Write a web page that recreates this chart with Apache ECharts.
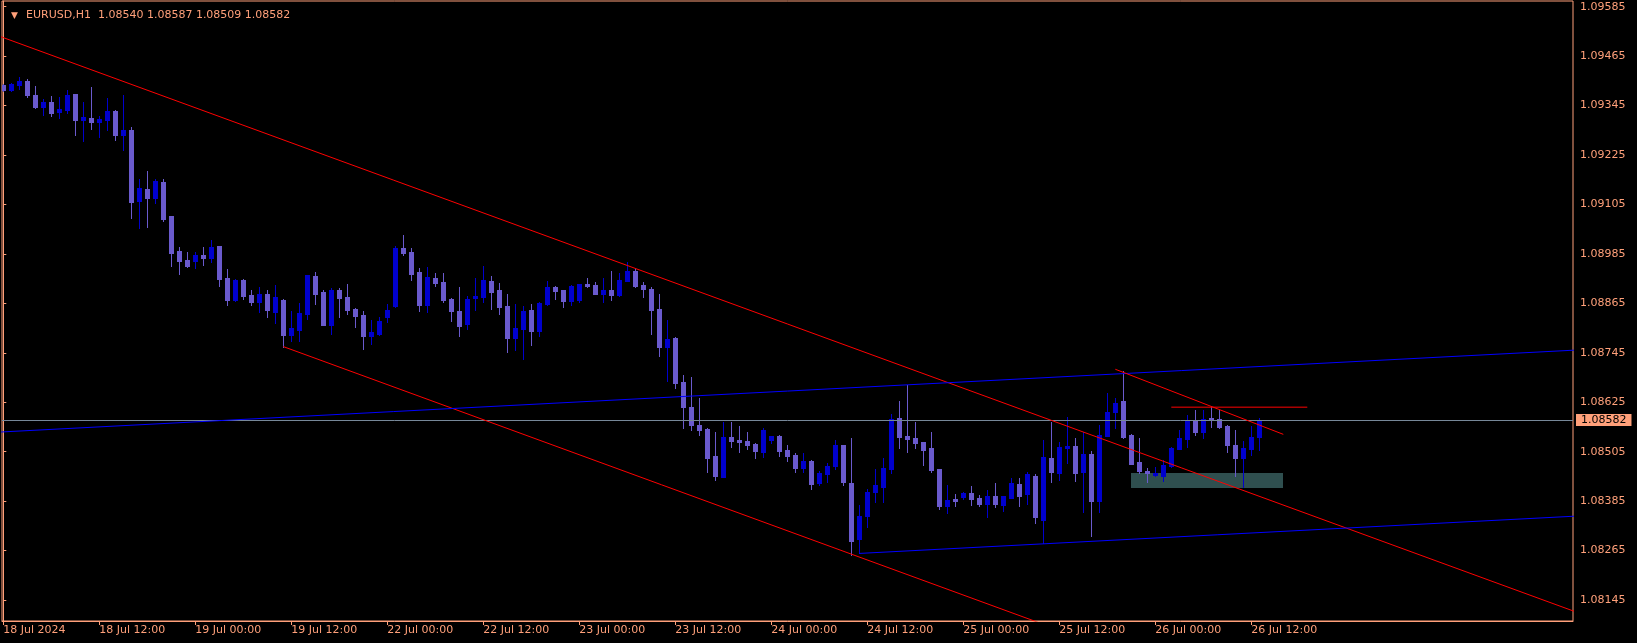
<!DOCTYPE html>
<html><head><meta charset="utf-8">
<script src="https://cdn.jsdelivr.net/npm/echarts@6/dist/echarts.min.js"></script>
<style>html,body{margin:0;padding:0;background:#000;}#c{width:1637px;height:643px;}</style>
</head><body><div id="c"></div>
<script>
const symbolName = 'EURUSD,H1';
const tickIdx = [0,12,24,36,48,60,72,84,96,108,120,132,144,156];
const tickLabels = ['18 Jul 2024','18 Jul 12:00','19 Jul 00:00','19 Jul 12:00','22 Jul 00:00','22 Jul 12:00','23 Jul 00:00','23 Jul 12:00','24 Jul 00:00','24 Jul 12:00','25 Jul 00:00','25 Jul 12:00','26 Jul 00:00','26 Jul 12:00'];
const priceTicks = [1.08145,1.08265,1.08385,1.08505,1.08625,1.08745,1.08865,1.08985,1.09105,1.09225,1.09345,1.09465,1.09585];

const opens = [1.09395,1.09383,1.09395,1.09405,1.09371,1.09342,1.09354,1.09329,1.09334,1.09373,1.09310,1.09315,1.09305,1.09310,1.09332,1.09274,1.09286,1.09113,1.09143,1.09121,1.09160,1.09077,1.08992,1.08970,1.08968,1.08982,1.08975,1.09004,1.08927,1.08873,1.08922,1.08885,1.08868,1.08888,1.08844,1.08873,1.08788,1.08800,1.08839,1.08931,1.08893,1.08812,1.08897,1.08880,1.08851,1.08837,1.08786,1.08791,1.08832,1.08859,1.08999,1.08990,1.08941,1.08861,1.08927,1.08917,1.08876,1.08847,1.08815,1.08878,1.08881,1.08919,1.08897,1.08859,1.08781,1.08803,1.08849,1.08798,1.08864,1.08905,1.08897,1.08871,1.08873,1.08912,1.08910,1.08888,1.08897,1.08885,1.08919,1.08944,1.08910,1.08900,1.08851,1.08759,1.08781,1.08674,1.08614,1.08570,1.08560,1.08495,1.08444,1.08541,1.08533,1.08531,1.08524,1.08504,1.08533,1.08543,1.08509,1.08497,1.08466,1.08482,1.08429,1.08451,1.08470,1.08521,1.08429,1.08293,1.08349,1.08407,1.08419,1.08463,1.08587,1.08543,1.08538,1.08528,1.08514,1.08463,1.08373,1.08390,1.08395,1.08405,1.08393,1.08378,1.08397,1.08376,1.08393,1.08427,1.08402,1.08446,1.08339,1.08490,1.08453,1.08514,1.08519,1.08456,1.08499,1.08385,1.08543,1.08601,1.08628,1.08545,1.08480,1.08458,1.08448,1.08446,1.08470,1.08512,1.08536,1.08582,1.08553,1.08587,1.08584,1.08567,1.08521,1.08490,1.08512,1.08540];
const highs = [1.09397,1.09399,1.09414,1.09410,1.09393,1.09360,1.09368,1.09366,1.09383,1.09373,1.09354,1.09390,1.09320,1.09363,1.09334,1.09371,1.09293,1.09167,1.09186,1.09167,1.09167,1.09077,1.09002,1.08990,1.08990,1.09002,1.09019,1.09004,1.08948,1.08924,1.08924,1.08897,1.08905,1.08897,1.08910,1.08876,1.08846,1.08866,1.08934,1.08941,1.08897,1.08902,1.08902,1.08912,1.08854,1.08846,1.08825,1.08832,1.08863,1.09004,1.09031,1.08999,1.08951,1.08953,1.08939,1.08939,1.08878,1.08905,1.08883,1.08927,1.08956,1.08931,1.08914,1.08888,1.08864,1.08859,1.08864,1.08868,1.08919,1.08907,1.08897,1.08910,1.08912,1.08927,1.08917,1.08927,1.08944,1.08939,1.08965,1.08951,1.08917,1.08905,1.08888,1.08825,1.08783,1.08691,1.08686,1.08635,1.08563,1.08553,1.08577,1.08577,1.08567,1.08553,1.08526,1.08563,1.08543,1.08546,1.08521,1.08502,1.08501,1.08485,1.08458,1.08478,1.08533,1.08521,1.08538,1.08376,1.08414,1.08463,1.08490,1.08596,1.08628,1.08667,1.08577,1.08528,1.08553,1.08463,1.08424,1.08402,1.08407,1.08422,1.08400,1.08412,1.08429,1.08397,1.08441,1.08441,1.08456,1.08451,1.08533,1.08577,1.08528,1.08589,1.08538,1.08553,1.08507,1.08570,1.08647,1.08635,1.08701,1.08548,1.08538,1.08465,1.08468,1.08485,1.08516,1.08558,1.08594,1.08606,1.08606,1.08613,1.08606,1.08570,1.08558,1.08531,1.08567,1.08587];
const lows = [1.09381,1.09381,1.09385,1.09367,1.09339,1.09322,1.09320,1.09315,1.09327,1.09274,1.09259,1.09288,1.09269,1.09286,1.09261,1.09237,1.09072,1.09048,1.09050,1.09109,1.09065,1.08956,1.08936,1.08953,1.08951,1.08958,1.08965,1.08907,1.08861,1.08871,1.08876,1.08861,1.08844,1.08832,1.08817,1.08760,1.08774,1.08774,1.08827,1.08863,1.08812,1.08791,1.08832,1.08839,1.08808,1.08754,1.08766,1.08788,1.08820,1.08856,1.08982,1.08922,1.08846,1.08844,1.08907,1.08868,1.08822,1.08786,1.08803,1.08849,1.08868,1.08851,1.08839,1.08747,1.08752,1.08730,1.08764,1.08786,1.08861,1.08876,1.08856,1.08861,1.08868,1.08905,1.08888,1.08868,1.08873,1.08883,1.08919,1.08905,1.08881,1.08791,1.08737,1.08677,1.08660,1.08563,1.08558,1.08546,1.08456,1.08436,1.08444,1.08516,1.08504,1.08512,1.08490,1.08492,1.08526,1.08495,1.08482,1.08456,1.08456,1.08414,1.08424,1.08431,1.08463,1.08424,1.08254,1.08258,1.08322,1.08383,1.08383,1.08453,1.08514,1.08504,1.08514,1.08473,1.08456,1.08366,1.08356,1.08373,1.08390,1.08376,1.08373,1.08346,1.08371,1.08361,1.08393,1.08373,1.08378,1.08332,1.08283,1.08431,1.08436,1.08478,1.08434,1.08359,1.08300,1.08359,1.08543,1.08562,1.08538,1.08475,1.08453,1.08431,1.08446,1.08434,1.08468,1.08512,1.08516,1.08545,1.08538,1.08565,1.08562,1.08504,1.08446,1.08420,1.08497,1.08509];
const closes = [1.09383,1.09397,1.09405,1.09371,1.09342,1.09354,1.09327,1.09337,1.09371,1.09310,1.09317,1.09305,1.09312,1.09332,1.09274,1.09286,1.09111,1.09145,1.09121,1.09162,1.09070,1.08987,1.08968,1.08956,1.08982,1.08975,1.09002,1.08924,1.08873,1.08922,1.08883,1.08868,1.08888,1.08849,1.08880,1.08788,1.08805,1.08842,1.08934,1.08888,1.08812,1.08897,1.08878,1.08849,1.08834,1.08786,1.08796,1.08822,1.08849,1.08999,1.08987,1.08936,1.08861,1.08929,1.08914,1.08873,1.08847,1.08810,1.08876,1.08883,1.08922,1.08893,1.08856,1.08781,1.08805,1.08847,1.08798,1.08866,1.08905,1.08895,1.08871,1.08907,1.08912,1.08907,1.08888,1.08897,1.08885,1.08922,1.08944,1.08907,1.08900,1.08849,1.08759,1.08779,1.08672,1.08614,1.08570,1.08558,1.08490,1.08446,1.08541,1.08531,1.08529,1.08521,1.08507,1.08558,1.08543,1.08507,1.08495,1.08465,1.08482,1.08427,1.08453,1.08470,1.08521,1.08431,1.08288,1.08349,1.08407,1.08424,1.08465,1.08584,1.08541,1.08536,1.08526,1.08509,1.08461,1.08373,1.08388,1.08385,1.08405,1.08390,1.08378,1.08397,1.08378,1.08397,1.08429,1.08397,1.08451,1.08346,1.08492,1.08456,1.08516,1.08519,1.08453,1.08499,1.08385,1.08545,1.08601,1.08623,1.08541,1.08475,1.08458,1.08453,1.08453,1.08473,1.08514,1.08538,1.08582,1.08553,1.08584,1.08582,1.08565,1.08521,1.08490,1.08514,1.08541,1.08582];

const bidPrice = 1.08582;
// drawn objects: [barIndex, price] anchor points
const channelUpperRed = [[-1, 1.09517], [197, 1.08113]];
const channelLowerRed = [[35, 1.08760], [131, 1.08079]];
const upperBlue = [[-1, 1.08552], [197, 1.08752]];
const lowerBlue = [[107, 1.08258], [197, 1.08349]];
const shortRed = [[139, 1.08705], [160, 1.08547]];
const levelRed = [[146, 1.08613], [163, 1.08613]];
const zoneRect = [[141, 1.08453, 160, 1.08418]];

const FG = '#FFA07A';
const BULL = '#0000CD';
const BEAR = '#6A5ACD';
const FONT = 'DejaVu Sans';

const candleData = opens.map((o, i) => [i, o, highs[i], lows[i], closes[i]]);
const last = candleData.length - 1;
const f5 = v => v.toFixed(5);

function renderCandle(params, api) {
  const i = api.value(0), o = api.value(1), h = api.value(2), l = api.value(3), c = api.value(4);
  const pO = api.coord([i, o]), pC = api.coord([i, c]), pH = api.coord([i, h]), pL = api.coord([i, l]);
  const cx = Math.round(pO[0]);
  const col = c >= o ? BULL : BEAR;
  const top = Math.round(Math.min(pO[1], pC[1]));
  const bot = Math.round(Math.max(pO[1], pC[1]));
  const hy = Math.round(pH[1]), ly = Math.round(pL[1]);
  return {type: 'group', children: [
    {type: 'rect', shape: {x: cx, y: hy, width: 1, height: Math.max(1, ly - hy + 1)}, style: {fill: col}},
    {type: 'rect', shape: {x: cx - 2, y: top, width: 5, height: Math.max(1, bot - top + 1)}, style: {fill: col}}
  ]};
}
function renderZone(params, api) {
  const a = api.coord([api.value(0), api.value(1)]);
  const b = api.coord([api.value(2), api.value(3)]);
  return {type: 'rect', shape: {x: Math.round(a[0]), y: Math.round(a[1]), width: Math.round(b[0]) - Math.round(a[0]), height: Math.round(b[1]) - Math.round(a[1])}, style: {fill: '#2F4F4F'}};
}
function lineSeries(data, color) {
  return {type: 'line', data: data, showSymbol: false, symbol: 'none', silent: true, z: 5, clip: true,
    lineStyle: {color: color, width: 1}, animation: false};
}

const bidSeries = {
  type: 'line', data: [], showSymbol: false, symbol: 'none', silent: true, z: 2, animation: false,
  markLine: {symbol: 'none', silent: true, animation: false, precision: 5,
    data: [{yAxis: bidPrice}],
    lineStyle: {color: '#778899', type: 'solid', width: 1},
    label: {show: true, position: 'end', distance: 3, formatter: f5(bidPrice), color: '#000', backgroundColor: FG,
      fontSize: 11, fontFamily: FONT, padding: [1, 5, 0, 5]}
  }
};

const chart = echarts.init(document.getElementById('c'), null, {renderer: 'canvas'});
chart.setOption({
  backgroundColor: '#000',
  animation: false,
  title: {
    left: 6, top: 5,
    text: '{t|▼}{s|' + symbolName + '  ' + f5(opens[last]) + ' ' + f5(highs[last]) + ' ' + f5(lows[last]) + ' ' + f5(closes[last]) + '}',
    textStyle: {fontWeight: 'normal', rich: {
      t: {fontSize: 9, width: 15, color: FG, fontFamily: FONT, fontWeight: 'normal'},
      s: {fontSize: 11, color: FG, fontFamily: FONT, fontWeight: 'normal'}
    }}
  },
  grid: {left: 2, right: 64, top: 1, bottom: 22, show: true, borderColor: FG, borderWidth: 1, containLabel: false, outerBoundsMode: 'none'},
  xAxis: {
    type: 'value', min: -0.1625, max: 196.2125,
    axisLine: {show: true, lineStyle: {color: FG, width: 1}},
    axisTick: {show: true, length: 4, lineStyle: {color: FG}, customValues: tickIdx},
    axisLabel: {show: true, customValues: tickIdx, color: FG, fontSize: 11, fontFamily: FONT, align: 'left', margin: 4,
      formatter: v => tickLabels[tickIdx.indexOf(Math.round(v))]},
    splitLine: {show: false}
  },
  yAxis: {
    type: 'value', position: 'right', min: 1.08094, max: 1.095988, scale: true,
    axisLine: {show: true, lineStyle: {color: FG, width: 1}},
    axisTick: {show: true, length: 3, lineStyle: {color: FG}, customValues: priceTicks},
    axisLabel: {show: true, customValues: priceTicks, color: FG, fontSize: 11, fontFamily: FONT, margin: 7,
      formatter: v => f5(v)},
    splitLine: {show: false}
  },
  series: [
    {type: 'custom', data: zoneRect, renderItem: renderZone, z: 1, silent: true, clip: true, encode: {x: [0, 2], y: [1, 3]}},
    bidSeries,
    {type: 'custom', data: candleData, renderItem: renderCandle, z: 3, silent: true, clip: true, encode: {x: 0, y: [1, 2, 3, 4]}},
    lineSeries(channelUpperRed, '#FF0000'),
    lineSeries(channelLowerRed, '#FF0000'),
    lineSeries(upperBlue, '#0000FF'),
    lineSeries(lowerBlue, '#0000FF'),
    lineSeries(shortRed, '#FF0000'),
    lineSeries(levelRed, '#FF0000')
  ]
});
</script>
</body></html>
